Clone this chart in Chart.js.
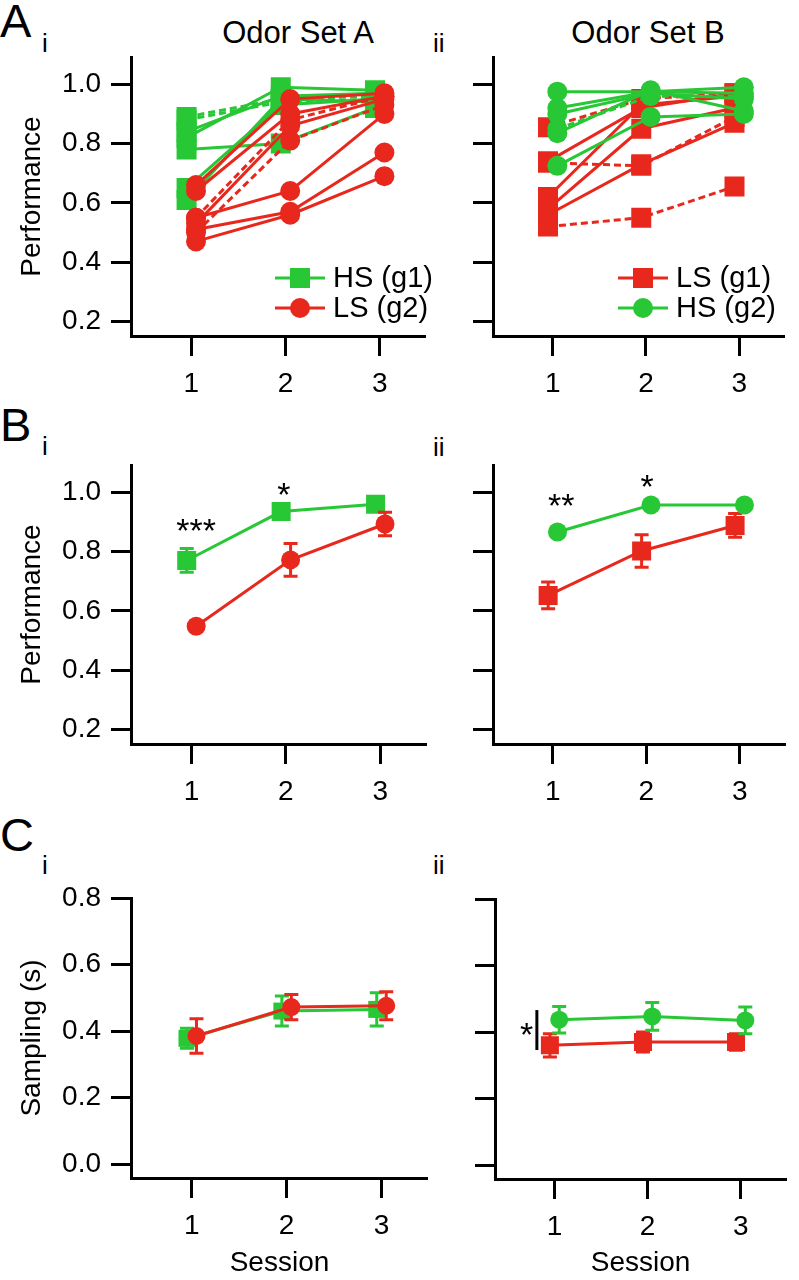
<!DOCTYPE html>
<html>
<head>
<meta charset="utf-8">
<script src="https://cdn.jsdelivr.net/npm/chart.js"></script>
<style>
    body { margin: 0; background: #fff; }
    #fig { position: relative; width: 799px; height: 1280px; overflow: hidden; font-family: "Liberation Sans", Arial, sans-serif; color: #000; }
    #fig canvas { position: absolute; }
    .lbl { position: absolute; line-height: 1; white-space: nowrap; }
    .big { font-size: 47px; }
    .sub { font-size: 26px; }
    .col { font-size: 31px; width: 260px; text-align: center; }
</style>
</head>
<body>
<div id="fig">
    <div class="lbl big" style="left:0;top:-3px">A</div>
    <div class="lbl sub" style="left:42px;top:30px">i</div>
    <div class="lbl sub" style="left:433px;top:30px">ii</div>
    <div class="lbl col" style="left:168px;top:17px">Odor Set A</div>
    <div class="lbl col" style="left:518px;top:17px">Odor Set B</div>

    <div class="lbl big" style="left:0;top:401px">B</div>
    <div class="lbl sub" style="left:42px;top:433px">i</div>
    <div class="lbl sub" style="left:433px;top:434px">ii</div>

    <div class="lbl big" style="left:0;top:811px">C</div>
    <div class="lbl sub" style="left:42px;top:852px">i</div>
    <div class="lbl sub" style="left:433px;top:852px">ii</div>

    <canvas id="chartAi" width="440" height="379" style="left:0;top:27px"></canvas>
    <canvas id="chartAii" width="359" height="379" style="left:440px;top:27px"></canvas>
    <canvas id="chartBi" width="440" height="379" style="left:0;top:435px"></canvas>
    <canvas id="chartBii" width="359" height="379" style="left:440px;top:435px"></canvas>
    <canvas id="chartCi" width="440" height="412" style="left:0;top:868px"></canvas>
    <canvas id="chartCii" width="359" height="411" style="left:440px;top:869px"></canvas>
</div>
<script>
const sessions = [1, 2, 3];
const perfTicks = [0.2, 0.4, 0.6, 0.8, 1.0];
const samplingTicks = [0.0, 0.2, 0.4, 0.6, 0.8];

// A i - odor set A, one row per animal (sessions 1-3)
const aiHsSolid = [
    [0.84, 0.96, 0.97],
    [0.82, 0.99, 0.98],
    [0.78, 0.80, 0.92],
    [0.65, 0.93, 0.95],
    [0.61, 0.95, 0.94],
];
const aiHsDashed = [
    [0.89, 0.95, 0.96],
    [0.88, 0.94, 0.95],
];
const aiLsSolid = [
    [0.66, 0.95, 0.97],
    [0.64, 0.90, 0.96],
    [0.53, 0.86, 0.95],
    [0.55, 0.64, 0.90],
    [0.51, 0.57, 0.77],
    [0.47, 0.56, 0.69],
];
const aiLsDashed = [
    [0.55, 0.88, 0.96],
    [0.50, 0.81, 0.93],
];

// A ii - odor set B
const aiiLsSolid = [
    [0.74, 0.92, 0.97],
    [0.62, 0.93, 0.96],
    [0.58, 0.85, 0.92],
    [0.56, 0.73, 0.87],
];
const aiiLsDashed = [
    [0.855, 0.95, 0.97],
    [0.735, 0.725, 0.89],
    [0.52, 0.55, 0.655],
];
const aiiHsSolid = [
    [0.975, 0.975, 0.99],
    [0.92, 0.975, 0.97],
    [0.90, 0.97, 0.95],
    [0.835, 0.98, 0.91],
    [0.725, 0.89, 0.90],
];
const aiiHsDashed = [
    [0.85, 0.96, 0.96],
];

// B - mean performance and sem
const biHsMean = [0.77, 0.935, 0.96];
const biHsSem = [0.04, 0.012, 0.01];
const biLsMean = [0.548, 0.772, 0.893];
const biLsSem = [0.01, 0.055, 0.04];
const biiLsMean = [0.652, 0.802, 0.888];
const biiLsSem = [0.045, 0.055, 0.04];
const biiHsMean = [0.866, 0.957, 0.957];
const biiHsSem = [0.012, 0.01, 0.01];

// C - sampling time (s), mean and sem
const ciHsMean = [0.378, 0.46, 0.465];
const ciHsSem = [0.03, 0.045, 0.05];
const ciLsMean = [0.385, 0.472, 0.476];
const ciLsSem = [0.052, 0.038, 0.042];
const ciiLsMean = [0.36, 0.37, 0.37];
const ciiLsSem = [0.035, 0.03, 0.025];
const ciiHsMean = [0.437, 0.447, 0.435];
const ciiHsSem = [0.04, 0.042, 0.04];

const GREEN = "#27c735";
const RED = "#e8281d";
const SQUARE = { pointStyle: "rect", shift: -0.05, order: 1 };
const CIRCLE = { pointStyle: "circle", shift: 0.05, order: 0 };

Chart.defaults.font.family = '"Liberation Sans", Arial, sans-serif';
Chart.defaults.color = "#000";

function series(values, color, marker, opts = {}) {
    const size = opts.size || 10;
    return {
        data: values.map((v, i) => ({ x: sessions[i] + marker.shift, y: v })),
        borderColor: color,
        backgroundColor: color,
        pointBackgroundColor: color,
        pointBorderWidth: 0,
        pointStyle: marker.pointStyle,
        pointRadius: marker.pointStyle === "rect" ? size * Math.SQRT2 : size,
        borderWidth: 3,
        borderDash: opts.dashed ? [7, 4] : [],
        order: marker.order,
        sem: opts.sem,
        legendText: opts.legendText,
    };
}

function group(solid, dashed, color, marker, legendText) {
    const list = [];
    solid.forEach((row, i) => list.push(series(row, color, marker, { legendText: i === 0 ? legendText : undefined })));
    dashed.forEach((row) => list.push(series(row, color, marker, { dashed: true })));
    return list;
}

// Error bars with caps, drawn right after their dataset
const errorBars = {
    id: "errorBars",
    afterDatasetDraw(chart, args) {
        const ds = chart.data.datasets[args.index];
        if (!ds.sem) return;
        const { ctx, scales: { x, y } } = chart;
        ctx.save();
        ctx.strokeStyle = ds.borderColor;
        ctx.lineWidth = 3;
        ds.data.forEach((p, i) => {
            const px = x.getPixelForValue(p.x);
            const top = y.getPixelForValue(p.y + ds.sem[i]);
            const bottom = y.getPixelForValue(p.y - ds.sem[i]);
            ctx.beginPath();
            ctx.moveTo(px, top);
            ctx.lineTo(px, bottom);
            ctx.moveTo(px - 7, top);
            ctx.lineTo(px + 7, top);
            ctx.moveTo(px - 7, bottom);
            ctx.lineTo(px + 7, bottom);
            ctx.stroke();
        });
        ctx.restore();
    },
};

// Legend drawn inside the plot area
const insetLegend = {
    id: "insetLegend",
    afterDraw(chart, args, opts) {
        if (opts.x === undefined) return;
        const { ctx, chartArea } = chart;
        const entries = chart.data.datasets.filter((d) => d.legendText).sort((a, b) => b.order - a.order);
        entries.forEach((ds, i) => {
            const x0 = chartArea.left + opts.x;
            const y = chartArea.top + opts.y + i * opts.rowGap;
            ctx.save();
            ctx.strokeStyle = ds.borderColor;
            ctx.lineWidth = ds.borderWidth;
            ctx.beginPath();
            ctx.moveTo(x0, y);
            ctx.lineTo(x0 + 50, y);
            ctx.stroke();
            ctx.fillStyle = ds.pointBackgroundColor;
            ctx.beginPath();
            if (ds.pointStyle === "rect") {
                ctx.rect(x0 + 15, y - 10, 20, 20);
            } else {
                ctx.arc(x0 + 25, y, 10, 0, Math.PI * 2);
            }
            ctx.fill();
            ctx.fillStyle = "#000";
            ctx.font = '29px "Liberation Sans", Arial, sans-serif';
            ctx.textBaseline = "middle";
            ctx.textAlign = "left";
            ctx.fillText(ds.legendText, x0 + 58, y + 1);
            ctx.restore();
        });
    },
};

// Significance stars and bars
const marks = {
    id: "marks",
    afterDatasetsDraw(chart, args, opts) {
        const items = opts.items || [];
        const { ctx, scales: { x, y } } = chart;
        ctx.save();
        ctx.fillStyle = "#000";
        ctx.strokeStyle = "#000";
        items.forEach((m) => {
            if (m.text) {
                ctx.font = '34px "Liberation Sans", Arial, sans-serif';
                ctx.textAlign = "center";
                ctx.textBaseline = "alphabetic";
                ctx.fillText(m.text, x.getPixelForValue(m.x), y.getPixelForValue(m.y) + 0.58 * 34);
            }
            if (m.bar) {
                ctx.lineWidth = 3;
                ctx.beginPath();
                ctx.moveTo(x.getPixelForValue(m.x), y.getPixelForValue(m.bar[0]));
                ctx.lineTo(x.getPixelForValue(m.x), y.getPixelForValue(m.bar[1]));
                ctx.stroke();
            }
        });
        ctx.restore();
    },
};

const axisGrid = { display: true, drawOnChartArea: false, drawTicks: true, tickLength: 20, tickWidth: 3, tickColor: "#000" };
const axisBorder = { display: true, color: "#000", width: 3 };

function makeChart(id, datasets, cfg) {
    return new Chart(document.getElementById(id), {
        type: "line",
        data: { datasets },
        plugins: [errorBars, insetLegend, marks],
        options: {
            responsive: false,
            animation: false,
            events: [],
            layout: { padding: { top: 30, right: cfg.padRight, bottom: 0, left: 0 } },
            plugins: {
                legend: { display: false },
                tooltip: { enabled: false },
                insetLegend: cfg.legend || {},
                marks: { items: cfg.marks || [] },
            },
            scales: {
                x: {
                    type: "linear",
                    min: 0.36,
                    max: 3.49,
                    afterBuildTicks: (s) => { s.ticks = sessions.map((v) => ({ value: v })); },
                    afterFit: (s) => { s.height = cfg.xHeight; },
                    grid: axisGrid,
                    border: axisBorder,
                    ticks: { color: "#000", padding: 11, font: { size: 28 } },
                    title: { display: !!cfg.xTitle, text: cfg.xTitle || "", color: "#000", font: { size: 28 }, padding: { top: 0, bottom: 0 } },
                },
                y: {
                    type: "linear",
                    min: cfg.yMin,
                    max: cfg.yMax,
                    afterBuildTicks: (s) => { s.ticks = cfg.yTicks.map((v) => ({ value: v })); },
                    afterFit: (s) => { s.width = cfg.yWidth; },
                    grid: axisGrid,
                    border: axisBorder,
                    ticks: {
                        color: "#000",
                        padding: 10,
                        font: { size: 28 },
                        callback: (v) => (cfg.yLabels ? Number(v).toFixed(1) : ""),
                    },
                    title: { display: !!cfg.yTitle, text: cfg.yTitle || "", color: "#000", font: { size: 28 }, padding: { top: 15, bottom: 0 } },
                },
            },
        },
    });
}

const leftPanel = { yWidth: 131, padRight: 7, yLabels: true };
const rightPanel = { yWidth: 53, padRight: 6, yLabels: false };
const perfAxis = { yMin: 0.151, yMax: 1.092, yTicks: perfTicks, xHeight: 70 };
const samplingAxis = { yMin: -0.042, yMax: 0.8, yTicks: samplingTicks, xHeight: 101, xTitle: "Session" };

makeChart("chartAi", [
    ...group(aiHsSolid, aiHsDashed, GREEN, SQUARE, "HS (g1)"),
    ...group(aiLsSolid, aiLsDashed, RED, CIRCLE, "LS (g2)"),
], { ...leftPanel, ...perfAxis, yTitle: "Performance", legend: { x: 144, y: 221, rowGap: 30 } });

makeChart("chartAii", [
    ...group(aiiLsSolid, aiiLsDashed, RED, SQUARE, "LS (g1)"),
    ...group(aiiHsSolid, aiiHsDashed, GREEN, CIRCLE, "HS (g2)"),
], { ...rightPanel, ...perfAxis, legend: { x: 125, y: 221, rowGap: 30 } });

makeChart("chartBi", [
    series(biHsMean, GREEN, SQUARE, { sem: biHsSem, size: 9.5 }),
    series(biLsMean, RED, CIRCLE, { sem: biLsSem, size: 9.5 }),
], {
    ...leftPanel, ...perfAxis, yTitle: "Performance",
    marks: [{ x: 1.05, y: 0.90, text: "***" }, { x: 1.98, y: 1.02, text: "*" }],
});

makeChart("chartBii", [
    series(biiLsMean, RED, SQUARE, { sem: biiLsSem, size: 9.5 }),
    series(biiHsMean, GREEN, CIRCLE, { sem: biiHsSem, size: 9.5 }),
], {
    ...rightPanel, ...perfAxis,
    marks: [{ x: 1.09, y: 0.983, text: "**" }, { x: 2.01, y: 1.047, text: "*" }],
});

makeChart("chartCi", [
    series(ciHsMean, GREEN, SQUARE, { sem: ciHsSem, size: 8.5 }),
    series(ciLsMean, RED, CIRCLE, { sem: ciLsSem, size: 9 }),
], { ...leftPanel, ...samplingAxis, xHeight: 102, yTitle: "Sampling (s)" });

makeChart("chartCii", [
    series(ciiLsMean, RED, SQUARE, { sem: ciiLsSem, size: 9 }),
    series(ciiHsMean, GREEN, CIRCLE, { sem: ciiHsSem, size: 9 }),
], {
    ...rightPanel, ...samplingAxis, yWidth: 55, padRight: 2,
    marks: [{ x: 0.70, y: 0.418, text: "*" }, { x: 0.81, bar: [0.466, 0.346] }],
});
</script>
</body>
</html>
